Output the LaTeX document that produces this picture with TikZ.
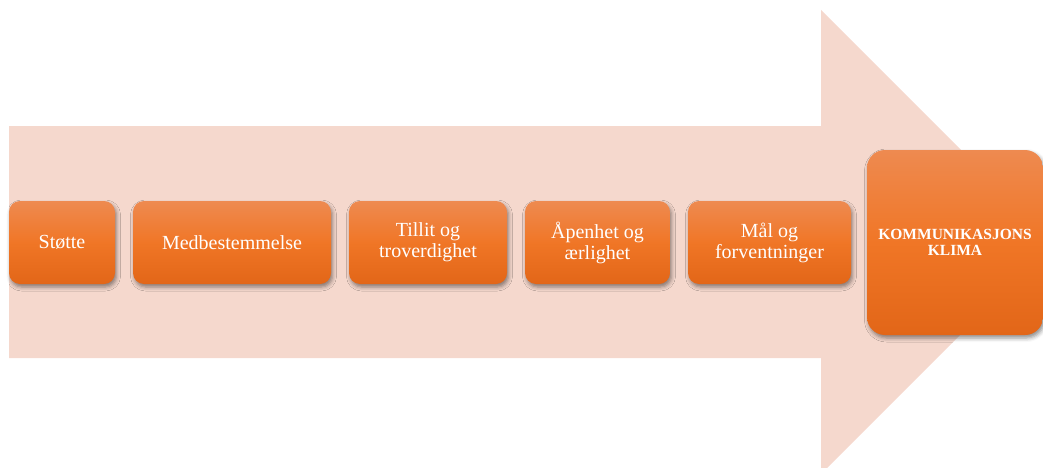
\documentclass[tikz,border=0pt]{standalone}
\usepackage{fontspec}
\setmainfont{Liberation Serif}
\usetikzlibrary{shadows.blur}
\definecolor{arrowfill}{RGB}{245,216,205}
\definecolor{boxtop}{RGB}{238,138,80}
\definecolor{boxmid}{RGB}{240,118,38}
\definecolor{boxbot}{RGB}{226,102,24}
\tikzset{
  stepbox/.style={rounded corners=11pt, inner sep=0pt, align=center,
    top color=boxtop, bottom color=boxbot, middle color=boxmid,
    text=white, font=\fontsize{20}{21}\selectfont,
    minimum height=83pt,
    blur shadow={shadow xshift=1.5pt, shadow yshift=-3pt, shadow blur radius=4pt, shadow opacity=45}},
  bigbox/.style={stepbox, rounded corners=18pt, font=\bfseries\fontsize{15.5}{16}\selectfont}
}
\begin{document}
\begin{tikzpicture}[x=1pt,y=-1pt]
\useasboundingbox (0,0) rectangle (1043,468);
\begin{scope}
\clip (0,0) rectangle (1043,468);
\fill[arrowfill] (9,126) -- (821,126) -- (821,10) -- (1053,242) -- (821,474) -- (821,358) -- (9,358) -- cycle;
\node[bigbox, minimum width=176pt, minimum height=185pt] (klima) at (955,242.5) {KOMMUNIKASJONS\\KLIMA};
\end{scope}
\node[stepbox, minimum width=106pt] (stotte) at (62,242.5) {Støtte};
\node[stepbox, minimum width=198pt] (med) at (232,242.5) {Medbestemmelse};
\node[stepbox, minimum width=158pt] (tillit) at (428,242.5) {Tillit og\\troverdighet};
\node[stepbox, minimum width=145pt] (apen) at (597.5,242.5) {Åpenhet og\\ærlighet};
\node[stepbox, minimum width=163pt] (maal) at (769.5,242.5) {Mål og\\forventninger};
\end{tikzpicture}
\end{document}
